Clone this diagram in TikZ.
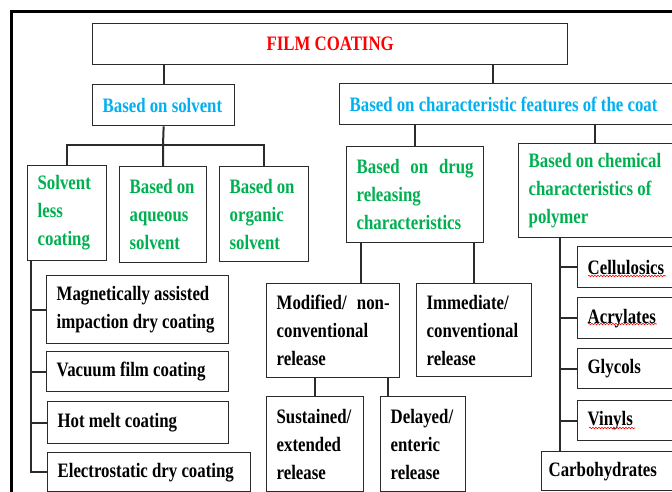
\documentclass[tikz,border=0pt]{standalone}
\usepackage{fontspec}
\setmainfont{Liberation Serif}[FakeStretch=0.82]
\usetikzlibrary{decorations.pathmorphing}
\definecolor{titlered}{HTML}{FF0000}
\definecolor{headblue}{HTML}{00B0F0}
\definecolor{subgreen}{HTML}{00B050}
\definecolor{darkline}{HTML}{2B2B2B}
\begin{document}
\begin{tikzpicture}[x=1pt,y=-1pt]
\tikzset{box/.style = {draw=darkline, line width=1.3pt, anchor=north west, align=flush left, inner xsep=10pt, inner ysep=0pt, font=\bfseries\fontsize{20.5}{28}\selectfont}}
\tikzset{link/.style = {draw=darkline, line width=2pt}}
\tikzset{squiggle/.style = {red, line width=0.6pt, decorate, decoration={snake, segment length=3pt, amplitude=0.8pt}}}
\useasboundingbox (0,0) rectangle (672,492);
\clip (0,0) rectangle (672,492);
% outer frame
\draw[line width=3pt] (11,510) -- (11,12) -- (690,12);
% top levels
\node[box, text=titlered, align=flush center, text width=455pt, minimum height=41pt] (film) at (92,23) {FILM COATING};
\node[box, text=headblue, text width=122pt, minimum height=41pt] (solvent) at (92,84) {Based on solvent};
\node[box, text=headblue, text width=340pt, minimum height=41pt] (coat) at (339,83) {Based on characteristic features of the coat};
% solvent types
\node[box, text=subgreen, text width=59pt, minimum height=95pt] (solless) at (27,165) {Solvent\\less\\coating};
\node[box, text=subgreen, text width=67pt, minimum height=96pt] (aqueous) at (119,166) {Based on\\aqueous\\solvent};
\node[box, text=subgreen, text width=69pt, minimum height=95pt] (organic) at (219,166) {Based on\\organic\\solvent};
% solvent less methods
\node[box, text width=162pt, minimum height=68pt] (magnetic) at (46,275) {Magnetically assisted\\impaction dry coating};
\node[box, text width=162pt, minimum height=40pt] (vacuum) at (46,351) {Vacuum film coating};
\node[box, text width=161pt, minimum height=42pt] (hotmelt) at (47,401) {Hot melt coating};
\node[box, text width=183pt, minimum height=39pt] (electro) at (47,452) {Electrostatic dry coating};
% coat features
\node[box, text=subgreen, text width=117pt, minimum height=96pt] (drug) at (346,146) {Based\hfill on\hfill drug\\releasing\\characteristics};
\node[box, text=subgreen, text width=160pt, minimum height=94pt] (chemical) at (518,143) {Based on chemical\\characteristics of\\polymer};
% release types
\node[box, text width=113pt, minimum height=94pt] (modified) at (266,283) {Modified/\hfill non-\\conventional\\release};
\node[box, text width=95pt, minimum height=93pt] (immediate) at (416,283) {Immediate/\\conventional\\release};
\node[box, text width=77pt, minimum height=95pt] (sustained) at (266,396) {Sustained/\\extended\\release};
\node[box, text width=65pt, minimum height=95pt] (delayed) at (380,396) {Delayed/\\enteric\\release};
% polymers
\node[box, text width=100pt, minimum height=41pt] (cellulosics) at (577,246) {Cellulosics};
\node[box, text width=100pt, minimum height=41pt] (acrylates) at (577,297) {Acrylates};
\node[box, text width=100pt, minimum height=40pt] (glycols) at (577,348) {Glycols};
\node[box, text width=100pt, minimum height=40pt] (vinyls) at (577,400) {Vinyls};
\node[box, inner xsep=7pt, text width=136pt, minimum height=39pt] (carbo) at (541,451) {Carbohydrates};
% links from the title
\coordinate (coattop) at ([xshift=154pt]coat.north west);
\draw[link] (film.south -| solvent.north) -- (solvent.north);
\draw[link] (coattop) -- (coattop |- film.south);
% solvent branch
\coordinate (solvbus) at (163,145);
\draw[link] (solvent.south) -- (solvbus);
\draw[link] (solless.north) |- (solvbus) -| (organic.north);
\draw[link] (aqueous.north) -- (solvbus);
\coordinate (lessbus) at ([xshift=4pt]solless.south west);
\draw[link] (lessbus) |- (electro.west);
\foreach \n in {magnetic,vacuum,hotmelt}
  \draw[link] (\n.west) -- (\n.west -| lessbus);
% coat branch
\coordinate (chemtop) at ([xshift=77pt]chemical.north west);
\draw[link] (drug.north) -- (drug.north |- coat.south);
\draw[link] (chemtop) -- (chemtop |- coat.south);
\coordinate (modtop) at ([xshift=15pt]drug.south west);
\draw[link] (modtop) -- (modtop |- modified.north);
\draw[link] (immediate.north) -- (immediate.north |- drug.south);
\coordinate (deltop) at ([xshift=8pt]delayed.north west);
\draw[link] (sustained.north) -- (sustained.north |- modified.south);
\draw[link] (deltop) -- (deltop |- modified.south);
\coordinate (polybus) at ([xshift=42pt]chemical.south west);
\draw[link] (polybus) -- (polybus |- carbo.north);
\foreach \n in {cellulosics,acrylates,glycols,vinyls}
  \draw[link] (\n.west) -- (\n.west -| polybus);
% spelling marks
\draw[squiggle] ([xshift=11pt,yshift=-30pt]cellulosics.north west) -- ++(78,0);
\draw[squiggle] ([xshift=11pt,yshift=-27pt]acrylates.north west) -- ++(69,0);
\draw[squiggle] ([xshift=12pt,yshift=-28pt]vinyls.north west) -- ++(46,0);
\end{tikzpicture}
\end{document}
